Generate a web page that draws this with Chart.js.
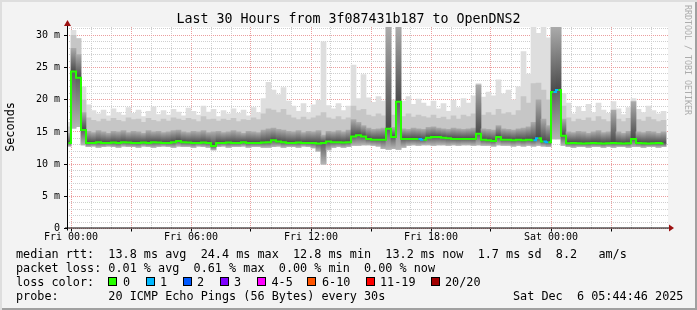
<!DOCTYPE html>
<html>
<head>
<meta charset="utf-8">
<title>Last 30 Hours from 3f087431b187 to OpenDNS2</title>
<script src="https://cdn.jsdelivr.net/npm/chart.js@4/dist/chart.umd.min.js"></script>
<style>
  html, body { margin: 0; padding: 0; }
  #frame {
    position: relative; width: 697px; height: 310px; overflow: hidden;
    background: #f3f3f3;
    box-shadow: inset 2px 2px 0 #dedede, inset -2px -2px 0 #a0a0a0;
    font-family: "DejaVu Sans Mono", monospace; color: #000;
  }
  #smoke { position: absolute; left: 0; top: 0; }
  .txt { position: absolute; white-space: pre; font-size: 11.8px; line-height: 14px; }
  #title { left: 0; width: 697px; top: 11px; text-align: center; font-size: 13.3px; line-height: 16px; }
  #ylabel { left: -40px; top: 120px; width: 100px; text-align: center; transform: rotate(-90deg); }
  #credit { left: 684px; top: 5px; writing-mode: vertical-rl; font-size: 8.3px; line-height: 8px; color: #acacac; }
  .box { position: absolute; top: 277px; width: 7px; height: 7px; border: 1px solid #000; }
</style>
</head>
<body>
<div id="frame">
  <canvas id="smoke" width="697" height="310"></canvas>
  <div class="txt" id="title">Last 30 Hours from 3f087431b187 to OpenDNS2</div>
  <div class="txt" id="ylabel">Seconds</div>
  <div class="txt" id="credit">RRDTOOL / TOBI OETIKER</div>
  <div class="txt" style="left:16px;top:247px">median rtt:  13.8 ms avg  24.4 ms max  12.8 ms min  13.2 ms now  1.7 ms sd  8.2   am/s</div>
  <div class="txt" style="left:16px;top:261px">packet loss: 0.01 % avg  0.61 % max  0.00 % min  0.00 % now</div>
  <div class="txt" style="left:16px;top:275px">loss color:</div>
  <div id="lossLegend"></div>
  <div class="txt" style="left:16px;top:289px">probe:       20 ICMP Echo Pings (56 Bytes) every 30s</div>
  <div class="txt" style="left:513px;top:289px">Sat Dec  6 05:44:46 2025</div>
</div>
<script>
// smokeping style latency graph, 15 minute steps, hours counted from Fri 00:00

// sample times (centre of each 15 min step)
const sampleHours = [];
for (let i = 0; i < 120; i++) sampleHours.push(-0.125 + 0.25 * i);

// median rtt in ms
const medRtt = [
  13.3, 24.4, 23.4, 15.3, 13.3, 13.3, 13.4, 13.3, 13.3, 13.35,
  13.3, 13.4, 13.35, 13.3, 13.3, 13.35, 13.3, 13.4, 13.35, 13.3,
  13.3, 13.4, 13.6, 13.4, 13.35, 13.3, 13.3, 13.35, 13.3, 12.8,
  13.3, 13.3, 13.35, 13.3, 13.3, 13.4, 13.3, 13.3, 13.3, 13.35,
  13.4, 13.7, 13.5, 13.4, 13.3, 13.3, 13.35, 13.3, 13.3, 13.3,
  13.2, 13.3, 13.5, 13.4, 13.4, 13.35, 13.4, 14.3, 14.5, 14.3,
  13.9, 13.8, 13.8, 13.8, 15.5, 14.2, 19.7, 13.9, 13.9, 13.9,
  13.9, 13.8, 14.1, 14.2, 14.2, 14.1, 14.0, 13.9, 13.9, 13.9,
  13.9, 13.9, 14.7, 13.8, 13.7, 13.6, 14.2, 13.8, 13.8, 13.7,
  13.8, 13.7, 13.8, 13.7, 14.0, 13.5, 13.4, 21.2, 21.5, 14.4,
  13.25, 13.3, 13.25, 13.2, 13.25, 13.3, 13.25, 13.2, 13.25, 13.3,
  13.25, 13.2, 13.25, 13.9, 13.3, 13.25, 13.2, 13.25, 13.3, 13.2
];

// lost pings per step (out of 20)
const lossCount = [
  0, 0, 0, 0, 0, 0, 0, 0, 0, 0,  0, 0, 0, 0, 0, 0, 0, 0, 0, 0,
  0, 0, 0, 0, 0, 0, 0, 0, 0, 0,  0, 0, 0, 0, 0, 0, 0, 0, 0, 0,
  0, 0, 0, 0, 0, 0, 0, 0, 0, 0,  0, 0, 0, 0, 0, 0, 0, 0, 0, 0,
  0, 0, 0, 0, 0, 0, 0, 0, 0, 0,  0, 1, 0, 0, 0, 0, 0, 0, 0, 0,
  0, 0, 0, 0, 0, 0, 0, 0, 0, 0,  0, 0, 0, 0, 1, 0, 1, 0, 1, 0,
  0, 0, 0, 0, 0, 0, 0, 0, 0, 0,  0, 0, 0, 0, 0, 0, 0, 0, 0, 0
];

// bottom of the smoke (fastest ping)
const loRtt = [
  12.8, 15.6, 15.8, 13.0, 12.7, 12.8, 12.6, 12.7, 12.8, 12.7,
  12.6, 12.8, 12.7, 12.7, 12.6, 12.8, 12.7, 12.6, 12.7, 12.8,
  12.7, 12.6, 12.8, 12.7, 12.7, 12.6, 12.8, 12.7, 12.6, 12.2,
  12.7, 12.8, 12.6, 12.7, 12.7, 12.8, 12.6, 12.7, 12.7, 12.6,
  12.6, 12.7, 12.8, 12.6, 12.7, 12.7, 12.6, 12.8, 12.7, 12.5,
  12.0, 10.0, 12.2, 12.6, 12.7, 12.6, 12.7, 12.9, 12.9, 13.0,
  13.0, 12.9, 12.8, 12.4, 12.3, 12.4, 12.3, 12.6, 12.9, 13.0,
  12.9, 13.0, 13.0, 12.9, 13.0, 13.0, 12.9, 13.0, 12.9, 13.0,
  13.0, 12.9, 13.0, 12.9, 12.9, 12.8, 13.0, 12.9, 12.9, 12.8,
  12.9, 12.8, 12.9, 12.8, 12.9, 12.8, 12.7, 13.9, 13.9, 12.9,
  12.7, 12.6, 12.7, 12.7, 12.6, 12.7, 12.7, 12.6, 12.7, 12.6,
  12.7, 12.7, 12.6, 12.7, 12.7, 12.6, 12.7, 12.7, 12.6, 12.7
];

// top of the dark smoke just above the median
const darkTop = [
  14.8, 28.0, 27.0, 18.0, 15.1, 14.9, 15.2, 15.0, 14.8, 15.1,
  15.0, 15.2, 14.9, 15.1, 15.0, 14.8, 15.2, 15.0, 15.1, 14.9,
  15.0, 15.2, 15.3, 15.0, 14.9, 15.1, 15.0, 15.2, 14.9, 15.0,
  15.1, 14.9, 15.0, 15.2, 15.0, 14.8, 15.1, 15.0, 14.9, 15.3,
  15.5, 15.6, 15.4, 15.3, 15.1, 15.0, 15.2, 14.9, 15.1, 15.0,
  15.2, 14.5, 15.1, 15.0, 15.2, 15.0, 15.3, 16.9, 16.5, 16.0,
  15.6, 15.4, 15.5, 15.6, 31.3, 15.7, 31.3, 15.5, 15.4, 15.6,
  15.5, 15.4, 15.7, 15.8, 15.6, 15.5, 15.4, 15.6, 15.5, 15.4,
  15.5, 15.6, 22.3, 15.5, 15.4, 15.3, 16.0, 15.5, 15.4, 15.3,
  15.5, 15.6, 15.8, 16.5, 20.0, 17.0, 16.0, 31.3, 31.3, 17.0,
  15.0, 14.9, 15.1, 15.0, 14.8, 15.0, 15.2, 14.9, 15.0, 18.4,
  15.0, 14.8, 15.1, 19.7, 15.0, 14.9, 15.1, 15.0, 14.8, 15.0
];

// top of the medium grey smoke
const midTop = [
  15.8, 30.0, 29.5, 20.0, 17.2, 16.8, 16.6, 17.0, 16.7, 17.1,
  16.8, 16.6, 17.2, 16.9, 17.0, 16.5, 17.1, 16.8, 16.6, 17.0,
  16.7, 17.2, 17.0, 16.8, 17.1, 16.9, 16.6, 17.4, 16.9, 17.0,
  16.7, 17.0, 16.8, 17.1, 16.6, 16.9, 16.8, 17.2, 16.9, 17.8,
  18.6, 18.4, 18.0, 18.5, 17.6, 17.2, 16.9, 17.3, 16.9, 17.2,
  17.5, 18.0, 17.2, 17.0, 17.4, 16.9, 17.2, 19.0, 18.3, 18.5,
  17.6, 17.4, 17.8, 17.5, 31.3, 17.6, 31.3, 17.4, 17.8, 17.3,
  17.6, 17.4, 17.2, 17.6, 17.1, 17.3, 16.9, 17.5, 17.0, 17.6,
  17.4, 17.8, 19.5, 17.6, 18.0, 17.6, 18.5, 17.8, 18.0, 17.6,
  18.3, 20.5, 19.5, 22.5, 22.6, 21.5, 20.0, 31.3, 31.3, 19.0,
  17.2, 16.6, 17.0, 16.8, 17.2, 16.7, 17.4, 16.9, 16.6, 17.8,
  17.0, 16.6, 17.1, 18.0, 16.9, 16.7, 17.3, 16.9, 16.6, 16.8
];

// top of the light smoke (slowest ping)
const maxRtt = [
  16.5, 30.8, 29.5, 22.0, 19.2, 18.3, 17.8, 18.4, 17.5, 18.6,
  18.0, 17.6, 18.8, 17.9, 18.4, 17.4, 18.2, 18.9, 17.7, 18.3,
  17.6, 18.5, 18.1, 17.5, 18.7, 18.2, 17.6, 19.0, 18.1, 18.5,
  17.4, 18.3, 17.8, 18.6, 17.9, 18.4, 17.5, 18.8, 18.0, 20.2,
  22.7, 21.5, 20.8, 21.9, 19.8, 19.0, 18.2, 19.4, 18.0, 19.2,
  19.9, 29.0, 19.1, 18.6, 19.4, 18.3, 19.0, 25.4, 20.2, 23.9,
  20.3, 19.6, 20.5, 19.8, 31.3, 20.0, 31.3, 19.8, 20.5, 19.3,
  20.1, 19.5, 19.0, 19.8, 18.6, 19.4, 18.2, 19.9, 18.8, 20.2,
  19.5, 20.6, 22.5, 20.4, 21.2, 20.6, 23.1, 20.9, 21.5, 20.0,
  22.0, 27.5, 24.0, 31.3, 30.3, 31.3, 29.6, 31.3, 31.3, 21.0,
  19.5, 17.8, 18.9, 18.2, 19.3, 18.0, 19.5, 18.4, 17.9, 19.7,
  18.6, 17.7, 18.8, 20.2, 18.5, 18.0, 19.0, 18.3, 17.8, 18.2
];

// axis ticks
const xTickHours = [0, 6, 12, 18, 24];
const xTickLabels = ['Fri 00:00', 'Fri 06:00', 'Fri 12:00', 'Fri 18:00', 'Sat 00:00'];
const yTickValues = [0, 5, 10, 15, 20, 25, 30];
const yTickLabels = ['0', '5 m', '10 m', '15 m', '20 m', '25 m', '30 m'];

// loss legend
const lossLabels = ['0', '1', '2', '3', '4-5', '6-10', '11-19', '20/20'];
const lossColors = ['#26ff00', '#00b8ff', '#0059ff', '#7e00ff', '#ff00ff', '#ff5500', '#ff0000', '#a10000'];
const lossBoxX = [108, 145.5, 182.5, 219.5, 256.5, 307, 365.5, 430.5];
const lossTextX = [123, 160, 197, 234, 271.5, 322, 380, 445];

const legendBox = document.getElementById('lossLegend');
lossLabels.forEach((lab, k) => {
  const b = document.createElement('div');
  b.className = 'box';
  b.style.left = lossBoxX[k] + 'px';
  b.style.background = lossColors[k];
  legendBox.appendChild(b);
  const t = document.createElement('div');
  t.className = 'txt';
  t.style.left = lossTextX[k] + 'px';
  t.style.top = '275px';
  t.textContent = lab;
  legendBox.appendChild(t);
});

const band = (lo, hi) => sampleHours.map((h, i) => ({ x: h, y: [lo[i], hi[i]] }));

// vertical fade for a smoke bar, dark end at the median
const fade = (from, to, cFrom, cTo) => c => {
  const chart = c.chart;
  if (!chart.chartArea || c.dataIndex === undefined) return cTo;
  const y = chart.scales.y;
  const g = chart.ctx.createLinearGradient(0, y.getPixelForValue(from[c.dataIndex]), 0, y.getPixelForValue(to[c.dataIndex]));
  g.addColorStop(0, cFrom);
  g.addColorStop(1, cTo);
  return g;
};

const majorGrid = '#eb9e9e';
const minorGrid = '#cfcfcf';

// white plot area, axis lines and red arrows
const framePlugin = {
  id: 'rrdFrame',
  beforeDraw(chart) {
    const { ctx, chartArea: a } = chart;
    ctx.save();
    ctx.fillStyle = '#ffffff';
    ctx.fillRect(a.left, a.top, a.right - a.left, a.bottom - a.top);
    ctx.restore();
  },
  afterDraw(chart) {
    const { ctx, chartArea: a } = chart;
    ctx.save();
    ctx.strokeStyle = '#000';
    ctx.lineWidth = 1;
    ctx.beginPath();
    ctx.moveTo(a.left + 0.5, a.bottom + 2);
    ctx.lineTo(a.left + 0.5, 23);
    ctx.moveTo(a.left - 2, a.bottom - 0.5);
    ctx.lineTo(a.right + 2, a.bottom - 0.5);
    ctx.stroke();
    ctx.fillStyle = '#9c1010';
    ctx.beginPath();
    ctx.moveTo(a.left + 0.5, 20);
    ctx.lineTo(a.left + 4, 26);
    ctx.lineTo(a.left - 3, 26);
    ctx.closePath();
    ctx.fill();
    ctx.beginPath();
    ctx.moveTo(a.right + 6, a.bottom - 0.5);
    ctx.lineTo(a.right + 1, a.bottom - 4);
    ctx.lineTo(a.right + 1, a.bottom + 3);
    ctx.closePath();
    ctx.fill();
    ctx.restore();
  }
};

Chart.defaults.font.family = '"DejaVu Sans Mono", monospace';
Chart.defaults.color = '#000';

const smokeChart = new Chart(document.getElementById('smoke').getContext('2d'), {
  type: 'bar',
  data: {
    datasets: [
      {
        type: 'line',
        label: 'median rtt',
        data: sampleHours.map((h, i) => ({ x: h, y: medRtt[i] })),
        stepped: 'middle',
        borderWidth: 2,
        borderColor: lossColors[0],
        pointRadius: 0,
        segment: {
          borderColor: c => lossColors[Math.min(lossCount[c.p1DataIndex], 1)]
        },
        order: 0
      },
      { label: 'under', data: band(loRtt, medRtt), backgroundColor: fade(medRtt, loRtt, '#606060', '#b4b4b4'), order: 1 },
      { label: 'dark', data: band(medRtt, darkTop), backgroundColor: fade(medRtt, darkTop, '#4a4a4a', '#ababab'), order: 2 },
      { label: 'mid', data: band(loRtt, midTop), backgroundColor: '#c6c6c6', order: 3 },
      { label: 'light', data: band(loRtt, maxRtt), backgroundColor: '#dedede', order: 4 }
    ]
  },
  options: {
    responsive: false,
    animation: false,
    layout: { padding: { top: 27, right: 29, left: 0, bottom: 0 } },
    datasets: {
      bar: { barPercentage: 1, categoryPercentage: 1, borderWidth: 0, grouped: false }
    },
    plugins: { legend: { display: false }, tooltip: { enabled: false } },
    scales: {
      x: {
        type: 'linear',
        min: -0.2,
        max: 29.85,
        offset: false,
        z: 1,
        afterFit: s => { s.height = 81.5; },
        afterBuildTicks: s => { s.ticks = Array.from({ length: 30 }, (_, h) => ({ value: h })); },
        grid: {
          offset: false,
          color: c => (c.tick && c.tick.value % 3 === 0 ? majorGrid : minorGrid),
          tickColor: c => (c.tick && c.tick.value % 3 === 0 ? '#000' : 'rgba(0,0,0,0)'),
          tickLength: 3
        },
        border: { display: false, dash: [1, 1] },
        ticks: {
          autoSkip: false,
          maxRotation: 0,
          padding: 0,
          font: { size: 10 },
          callback: v => { const k = xTickHours.indexOf(v); return k >= 0 ? xTickLabels[k] : ''; }
        }
      },
      y: {
        min: 0,
        max: 31.3,
        z: 1,
        afterFit: s => { s.width = 67; },
        afterBuildTicks: s => { s.ticks = Array.from({ length: 32 }, (_, v) => ({ value: v })); },
        grid: {
          color: c => (c.tick && c.tick.value % 5 === 0 ? majorGrid : minorGrid),
          tickColor: c => (c.tick && c.tick.value % 5 === 0 ? '#000' : 'rgba(0,0,0,0)'),
          tickLength: 3
        },
        border: { display: false, dash: [1, 1] },
        ticks: {
          autoSkip: false,
          padding: 4,
          font: { size: 10 },
          callback: v => { const k = yTickValues.indexOf(v); return k >= 0 ? yTickLabels[k] : ''; }
        }
      }
    }
  },
  plugins: [framePlugin]
});
</script>
</body>
</html>
